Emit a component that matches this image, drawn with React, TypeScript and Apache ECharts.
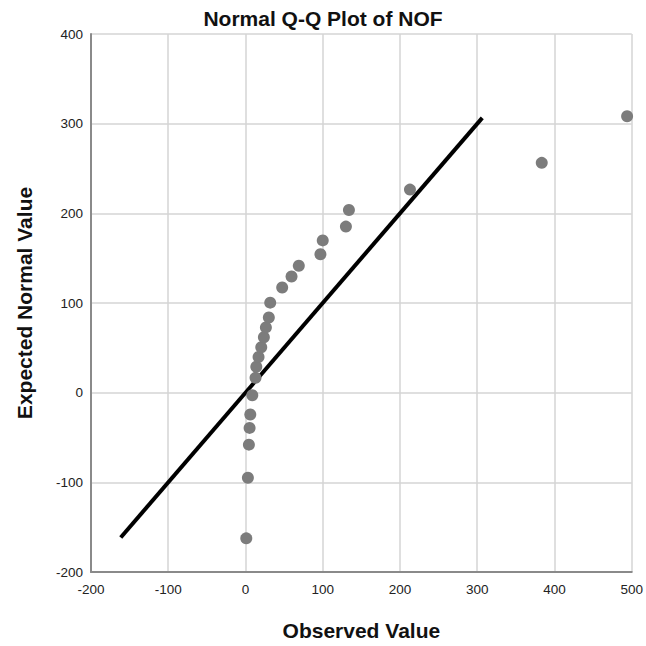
import React, { useEffect, useRef } from "react";
import * as echarts from "echarts";

const observed = [1.0, 3.1, 4.4, 5.3, 6.2, 8.8, 13.0, 14.0, 16.9, 20.4, 23.8, 26.4, 30.2, 32.0, 47.5, 59.6, 69.0, 97.0, 100.0, 130.0, 133.9, 212.9, 383.5, 494.0];
const expected = [-162.5, -94.9, -58.0, -39.3, -24.3, -2.9, 16.5, 28.9, 39.7, 50.7, 61.8, 72.8, 83.8, 100.4, 117.3, 129.5, 141.6, 154.4, 169.8, 185.2, 203.7, 226.5, 256.3, 308.2];
const refLine = [-161.5, 306.5];

const xTicks = { min: -200, max: 500, interval: 100 };
const yTicks = { min: -200, max: 400, interval: 100 };

export default function App() {
  const ref = useRef<HTMLDivElement>(null);
  useEffect(() => {
    if (!ref.current) return;
    const chart = echarts.init(ref.current, null, { renderer: "svg" });
    const font = "Liberation Sans, Arial, sans-serif";
    chart.setOption({
      animation: false,
      backgroundColor: "#ffffff",
      title: {
        text: "Normal Q-Q Plot of NOF",
        left: "center",
        top: 3,
        textStyle: { fontFamily: font, fontSize: 21, fontWeight: "bold", color: "#111" },
      },
      grid: { left: 91, right: 13, top: 34, bottom: 68 },
      xAxis: {
        type: "value",
        min: xTicks.min,
        max: xTicks.max,
        interval: xTicks.interval,
        name: "Observed Value",
        nameLocation: "middle",
        nameGap: 48,
        nameTextStyle: { fontFamily: font, fontSize: 21, fontWeight: "bold", color: "#111" },
        axisLine: { show: true, onZero: false, lineStyle: { color: "#8a8a8a", width: 2 } },
        axisTick: { show: false },
        axisLabel: { fontFamily: font, fontSize: 13.5, color: "#222", margin: 10 },
        splitLine: { show: true, lineStyle: { color: "#d4d4d4", width: 1.5 } },
      },
      yAxis: {
        type: "value",
        min: yTicks.min,
        max: yTicks.max,
        interval: yTicks.interval,
        name: "Expected Normal Value",
        nameLocation: "middle",
        nameGap: 56,
        nameTextStyle: { fontFamily: font, fontSize: 21, fontWeight: "bold", color: "#111" },
        axisLine: { show: true, onZero: false, lineStyle: { color: "#8a8a8a", width: 2 } },
        axisTick: { show: false },
        axisLabel: { fontFamily: font, fontSize: 13.5, color: "#222", margin: 8 },
        splitLine: { show: true, lineStyle: { color: "#d4d4d4", width: 1.5 } },
      },
      series: [
        {
          type: "line",
          data: refLine.map((v) => [v, v]),
          showSymbol: false,
          symbol: "none",
          lineStyle: { color: "#000", width: 4 },
          z: 3,
        },
        {
          type: "scatter",
          data: observed.map((x, i) => [x, expected[i]]),
          symbolSize: 12,
          itemStyle: { color: "#7c7c7c", opacity: 1 },
          z: 4,
        },
      ],
    });
    return () => chart.dispose();
  }, []);
  return <div ref={ref} style={{ width: 646, height: 646, position: "absolute", left: 0, top: 0 }} />;
}
